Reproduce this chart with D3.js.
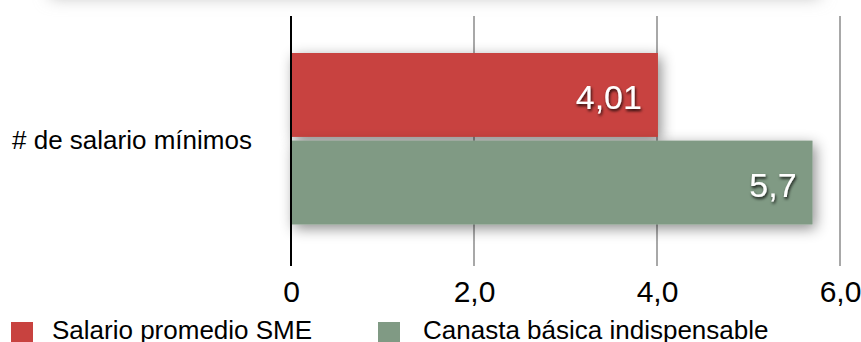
<!DOCTYPE html>
<html>
<head>
<meta charset="utf-8">
<script src="https://cdn.jsdelivr.net/npm/d3@7"></script>
<style>
  html, body { margin: 0; padding: 0; background: #fff; }
  svg { display: block; font-family: "Liberation Sans", Arial, Helvetica, sans-serif; }
</style>
</head>
<body>
<svg id="chart" width="861" height="342"></svg>
<script>
// ---- data ----
const categories = ["# de salario mínimos"];
const series = ["Salario promedio SME", "Canasta básica indispensable"];
const values = [4.01, 5.7];
const valueLabels = ["4,01", "5,7"];
const seriesColors = ["#C8423F", "#809A84"];
const tickValues = [0, 2, 4, 6];
const tickLabels = ["0", "2,0", "4,0", "6,0"];

// ---- layout ----
const W = 861, H = 342;
const svg = d3.select("#chart");
const defs = svg.append("defs");

const barShadow = defs.append("filter").attr("id", "barShadow")
  .attr("x", "-20%").attr("y", "-40%").attr("width", "140%").attr("height", "180%");
barShadow.append("feDropShadow").attr("dx", 3).attr("dy", 4)
  .attr("stdDeviation", 7).attr("flood-color", "#000").attr("flood-opacity", 0.45);

const textShadow = defs.append("filter").attr("id", "textShadow")
  .attr("x", "-20%").attr("y", "-30%").attr("width", "140%").attr("height", "160%");
textShadow.append("feDropShadow").attr("dx", 1).attr("dy", 2)
  .attr("stdDeviation", 1.4).attr("flood-color", "#000").attr("flood-opacity", 0.85);

const blur = defs.append("filter").attr("id", "blur")
  .attr("x", "-10%").attr("y", "-100%").attr("width", "120%").attr("height", "300%");
blur.append("feGaussianBlur").attr("stdDeviation", 8);

// cropped shadow of a box above the visible area
svg.append("rect").attr("x", 50).attr("y", -40).attr("width", 770).attr("height", 38)
  .attr("fill", "#c4c4c4").attr("filter", "url(#blur)");

const axisTop = 16, axisBottom = 266;
const x = d3.scaleLinear().domain([0, 6]).range([291, 840]);
const yCat = d3.scaleBand().domain(categories).range([53, 224.5]);
const ySer = d3.scaleBand().domain(series).range([0, yCat.bandwidth()]).paddingInner(0.042);

// gridlines
svg.append("g").selectAll("line").data(tickValues.filter(d => d !== 0)).join("line")
  .attr("x1", d => x(d)).attr("x2", d => x(d))
  .attr("y1", axisTop).attr("y2", axisBottom)
  .attr("stroke", "#a8a8a8").attr("stroke-width", 2);

// bars
const barG = svg.append("g");
categories.forEach(cat => {
  barG.selectAll(null).data(series).join("rect")
    .attr("x", x(0))
    .attr("y", s => yCat(cat) + ySer(s))
    .attr("width", (s, i) => x(values[i]) - x(0))
    .attr("height", ySer.bandwidth())
    .attr("fill", (s, i) => seriesColors[i])
    .attr("filter", "url(#barShadow)");
});

// baseline axis line
svg.append("line").attr("x1", x(0)).attr("x2", x(0))
  .attr("y1", axisTop).attr("y2", axisBottom)
  .attr("stroke", "#000").attr("stroke-width", 2);

// value labels
categories.forEach(cat => {
  svg.append("g").selectAll("text").data(series).join("text")
    .attr("x", (s, i) => x(values[i]) - 16)
    .attr("y", s => yCat(cat) + ySer(s) + ySer.bandwidth() / 2 + 14)
    .attr("text-anchor", "end")
    .attr("font-size", 34)
    .attr("fill", "#fff")
    .attr("filter", "url(#textShadow)")
    .text((s, i) => valueLabels[i]);
});

// x axis tick labels
const xAxis = d3.axisBottom(x).tickValues(tickValues)
  .tickFormat((d, i) => tickLabels[i]).tickSize(0).tickPadding(0);
const xg = svg.append("g").attr("transform", `translate(0,${axisBottom})`).call(xAxis);
xg.select(".domain").remove();
xg.selectAll("text").attr("font-size", 30).attr("fill", "#000")
  .attr("font-family", "Liberation Sans, Arial, sans-serif")
  .attr("dy", null).attr("y", 36);

// category label
svg.append("g").selectAll("text").data(categories).join("text")
  .attr("x", 12)
  .attr("y", d => yCat(d) + yCat.bandwidth() / 2 + 10)
  .attr("font-size", 26).attr("fill", "#000")
  .text(d => d);

// legend
const legendX = [11, 378];
const lg = svg.append("g").selectAll("g").data(series).join("g")
  .attr("transform", (d, i) => `translate(${legendX[i]},322)`);
lg.append("rect").attr("width", 22).attr("height", 22)
  .attr("fill", (d, i) => seriesColors[i]);
lg.append("text").attr("x", (d, i) => i === 0 ? 41 : 45).attr("y", 17)
  .attr("font-size", 26).attr("fill", "#000").text(d => d);
</script>
</body>
</html>
